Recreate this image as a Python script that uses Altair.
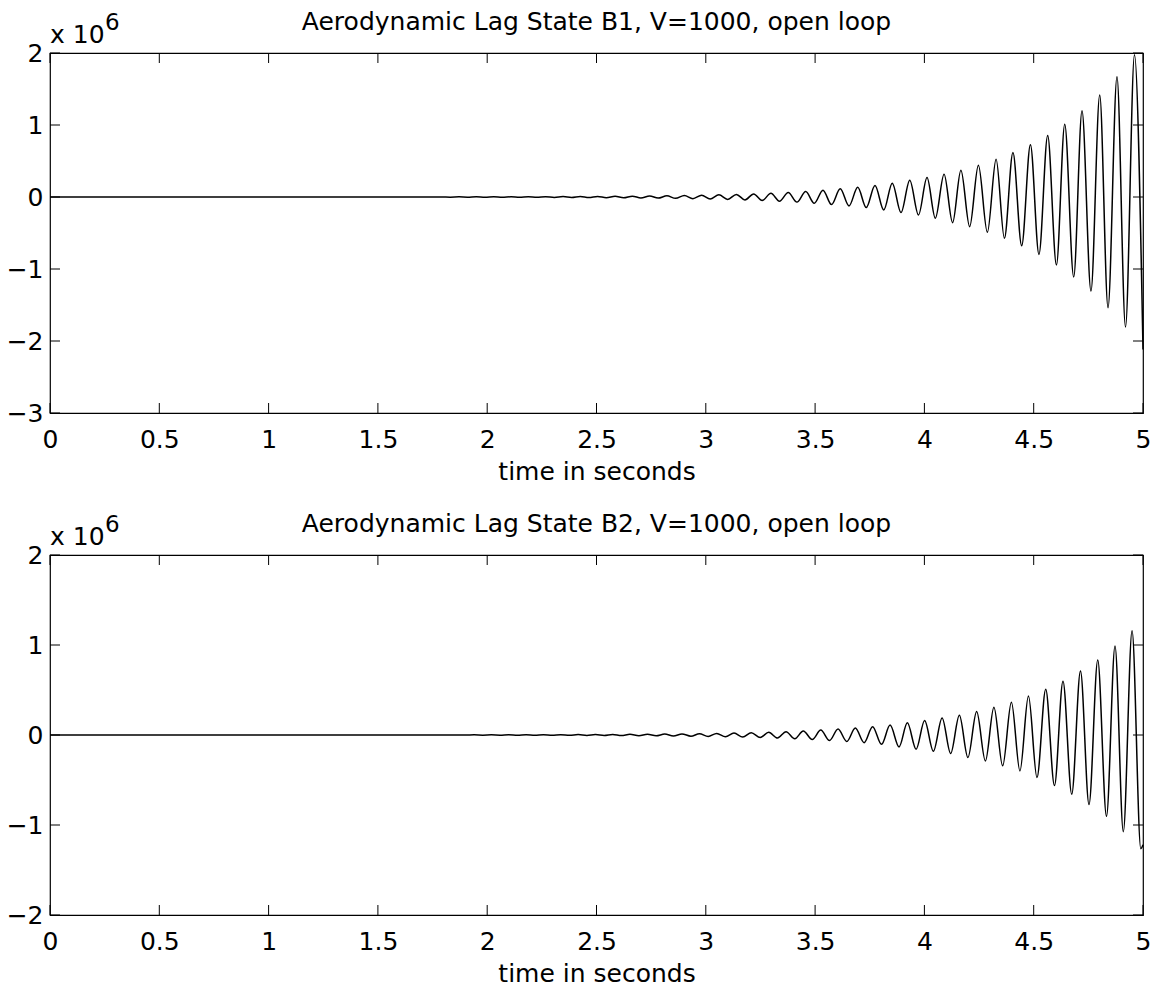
import altair as alt
import pandas as pd

# ---------------- data (values in units of 1e6) ----------------
x_ticks = [0, 0.5, 1, 1.5, 2, 2.5, 3, 3.5, 4, 4.5, 5]
y1_ticks = [-3, -2, -1, 0, 1, 2]
y2_ticks = [-2, -1, 0, 1, 2]

titles = ["Aerodynamic Lag State B1, V=1000, open loop",
          "Aerodynamic Lag State B2, V=1000, open loop"]
xlabel = "time in seconds"
exp_base = "x 10"
exp_power = "6"

# ---- B1 ----
b1_flat_t = [0.0, 1.79]
b1_flat_v = [0.0, 0.0]
b1_peak_t = [1.871, 1.950, 2.030, 2.109, 2.188, 2.267, 2.347, 2.426, 2.505, 2.585, 2.664,
             2.743, 2.822, 2.902, 2.981, 3.060, 3.140, 3.219, 3.298, 3.377, 3.457, 3.536,
             3.615, 3.695, 3.774, 3.853, 3.933, 4.012, 4.090, 4.167, 4.247, 4.328, 4.405,
             4.485, 4.564, 4.642, 4.721, 4.802, 4.881, 4.961]
b1_peak_v = [0.002, 0.0025, 0.003, 0.0035, 0.0042, 0.005, 0.006, 0.0072, 0.0085, 0.010, 0.012,
             0.014, 0.017, 0.021, 0.025, 0.030, 0.036, 0.043, 0.052, 0.063, 0.077, 0.095,
             0.114, 0.135, 0.160, 0.192, 0.234, 0.270, 0.317, 0.373, 0.442, 0.526, 0.618,
             0.725, 0.854, 1.012, 1.197, 1.416, 1.670, 1.976]
b1_trough_t = [1.831, 1.910, 1.990, 2.069, 2.148, 2.227, 2.307, 2.386, 2.465, 2.545, 2.624,
               2.703, 2.782, 2.862, 2.941, 3.020, 3.100, 3.179, 3.258, 3.337, 3.417, 3.496,
               3.575, 3.655, 3.734, 3.814, 3.893, 3.973, 4.050, 4.129, 4.207, 4.288, 4.366,
               4.445, 4.524, 4.604, 4.683, 4.762, 4.840, 4.920, 5.000]
b1_trough_v = [-0.0018, -0.0023, -0.0028, -0.0032, -0.0039, -0.0046, -0.0055, -0.0066, -0.0078,
               -0.0092, -0.011, -0.013, -0.0155, -0.019, -0.023, -0.0275, -0.033, -0.040,
               -0.048, -0.058, -0.071, -0.087, -0.105, -0.124, -0.147, -0.180, -0.217, -0.249,
               -0.295, -0.356, -0.412, -0.490, -0.573, -0.676, -0.797, -0.944, -1.111, -1.306,
               -1.538, -1.807, -2.117]

# ---- B2 ----
b2_flat_t = [0.0, 1.78]
b2_flat_v = [0.0, 0.0]
b2_peak_t = [1.861, 1.940, 2.019, 2.098, 2.178, 2.257, 2.336, 2.416, 2.495, 2.574, 2.653,
             2.733, 2.812, 2.891, 2.971, 3.050, 3.129, 3.208, 3.288, 3.367, 3.446, 3.526,
             3.605, 3.684, 3.763, 3.843, 3.922, 4.001, 4.081, 4.160, 4.239, 4.318, 4.398,
             4.476, 4.555, 4.634, 4.714, 4.793, 4.872, 4.950]
b2_peak_v = [0.0012, 0.0015, 0.0017, 0.002, 0.0024, 0.0029, 0.0035, 0.0042, 0.0049, 0.0058, 0.007,
             0.0081, 0.0099, 0.012, 0.0145, 0.0174, 0.021, 0.025, 0.030, 0.037, 0.045, 0.055,
             0.066, 0.078, 0.093, 0.111, 0.135, 0.161, 0.190, 0.220, 0.261, 0.309, 0.365,
             0.432, 0.509, 0.598, 0.710, 0.832, 0.988, 1.158]
b2_trough_t = [1.822, 1.901, 1.980, 2.059, 2.139, 2.218, 2.297, 2.377, 2.456, 2.535, 2.614,
               2.694, 2.773, 2.852, 2.932, 3.011, 3.090, 3.169, 3.249, 3.328, 3.407, 3.487,
               3.566, 3.645, 3.724, 3.804, 3.884, 3.962, 4.041, 4.120, 4.199, 4.279, 4.358,
               4.437, 4.515, 4.595, 4.674, 4.753, 4.833, 4.910, 4.990]
b2_trough_v = [-0.001, -0.0013, -0.0016, -0.0019, -0.0023, -0.0027, -0.0032, -0.0038, -0.0045,
               -0.0053, -0.0064, -0.0075, -0.009, -0.011, -0.0133, -0.016, -0.019, -0.023,
               -0.028, -0.034, -0.041, -0.050, -0.061, -0.072, -0.085, -0.104, -0.132, -0.158,
               -0.180, -0.206, -0.250, -0.288, -0.343, -0.399, -0.473, -0.562, -0.658, -0.773,
               -0.903, -1.074, -1.263]
b2_end_t = [5.0]
b2_end_v = [-1.22]


def series(ts, vs):
    t = [x for part in ts for x in part]
    v = [x for part in vs for x in part]
    return pd.DataFrame({"t": t, "v": v}).sort_values("t").reset_index(drop=True)


b1 = series([b1_flat_t, b1_peak_t, b1_trough_t], [b1_flat_v, b1_peak_v, b1_trough_v])
b2 = series([b2_flat_t, b2_peak_t, b2_trough_t, b2_end_t],
            [b2_flat_v, b2_peak_v, b2_trough_v, b2_end_v])

# ---------------- styling ----------------
W, H = 1093, 360
FONT = "DejaVu Sans"
FS = 25
TICK = 10


def panel(df, yticks, title):
    xenc = alt.X("t:Q",
                 scale=alt.Scale(domain=[0, 5], nice=False, zero=False),
                 axis=alt.Axis(values=x_ticks, format="~g", ticks=False, tickSize=0,
                               domain=False, grid=False, labelFont=FONT, labelFontSize=FS,
                               labelColor="black", labelPadding=14, labelFlush=False,
                               title=xlabel, titleFont=FONT, titleFontSize=FS,
                               titleFontWeight="normal", titleColor="black",
                               titleY=66, titleBaseline="alphabetic"))
    yenc = alt.Y("v:Q",
                 scale=alt.Scale(domain=[min(yticks), max(yticks)], nice=False, zero=False),
                 axis=alt.Axis(values=yticks, ticks=False, tickSize=0, domain=False,
                               grid=False, labelFont=FONT, labelFontSize=FS,
                               labelColor="black", labelPadding=7, labelFlush=False,
                               title=None))

    line = alt.Chart(df).mark_line(color="black", strokeWidth=1.5,
                                   interpolate="monotone").encode(x=xenc, y=yenc)

    xt = pd.DataFrame({"t": x_ticks})
    yt = pd.DataFrame({"v": yticks})
    tick_style = dict(color="black", strokeWidth=1)
    top_t = alt.Chart(xt).mark_rule(**tick_style).encode(
        x=xenc, y=alt.value(0), y2=alt.value(TICK))
    bot_t = alt.Chart(xt).mark_rule(**tick_style).encode(
        x=xenc, y=alt.value(H - TICK), y2=alt.value(H))
    left_t = alt.Chart(yt).mark_rule(**tick_style).encode(
        y=yenc, x=alt.value(0), x2=alt.value(TICK))
    right_t = alt.Chart(yt).mark_rule(**tick_style).encode(
        y=yenc, x=alt.value(W - TICK), x2=alt.value(W))

    ttl = alt.Chart(pd.DataFrame({"s": [title]})).mark_text(
        font=FONT, fontSize=FS, baseline="alphabetic", align="center", color="black"
    ).encode(text="s:N", x=alt.value(W / 2), y=alt.value(-23))
    e1 = alt.Chart(pd.DataFrame({"s": [exp_base]})).mark_text(
        font=FONT, fontSize=FS, baseline="alphabetic", align="left", color="black"
    ).encode(text="s:N", x=alt.value(0), y=alt.value(-10.5))
    e2 = alt.Chart(pd.DataFrame({"s": [exp_power]})).mark_text(
        font=FONT, fontSize=23, baseline="alphabetic", align="left", color="black"
    ).encode(text="s:N", x=alt.value(55), y=alt.value(-23))

    return alt.layer(line, top_t, bot_t, left_t, right_t, ttl, e1, e2).properties(
        width=W, height=H)


chart = alt.vconcat(panel(b1, y1_ticks, titles[0]),
                    panel(b2, y2_ticks, titles[1]),
                    spacing=26).properties(
    padding={"left": 5, "top": 9, "right": 5, "bottom": 2},
    background="white",
).configure_view(stroke="black", strokeWidth=1.2)

chart.save("out.html", embed_options={"renderer": "svg", "actions": False})
